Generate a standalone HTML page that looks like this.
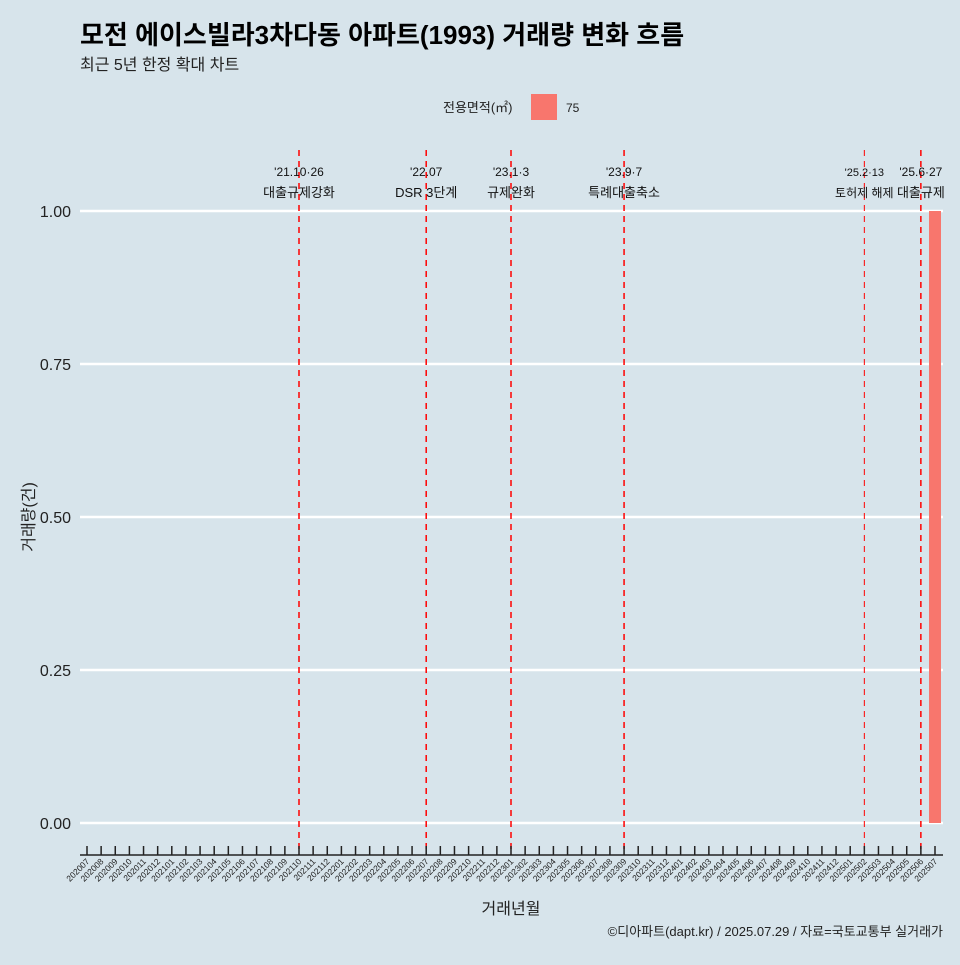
<!DOCTYPE html>
<html><head><meta charset="utf-8"><style>
body{margin:0;background:#d7e4eb;font-family:"Liberation Sans","Noto Sans CJK KR",sans-serif;}
svg text{font-family:"Liberation Sans","Noto Sans CJK KR",sans-serif;}
</style></head><body>
<svg width="960" height="960" xmlns="http://www.w3.org/2000/svg" id="chart">
<rect width="960" height="960" fill="#d7e4eb"/>
<text x="80" y="44" font-size="26" font-weight="bold" fill="#000">모전 에이스빌라3차다동 아파트(1993) 거래량 변화 흐름</text>
<text x="80" y="70" font-size="16" fill="#222">최근 5년 한정 확대 차트</text>
<g>
<text x="443" y="112" font-size="13" fill="#222">전용면적(㎡)</text>
<rect x="531" y="94" width="26" height="26" fill="#f8766d"/>
<text x="566" y="112" font-size="12" fill="#222">75</text>
</g>
<g id="grid"></g><g id="yticks"></g><g id="bars"></g><g id="events"></g><g id="xaxis"></g>
<text transform="translate(34,517) rotate(-90)" text-anchor="middle" font-size="16" fill="#222">거래량(건)</text>
<text x="511" y="914" text-anchor="middle" font-size="16" fill="#222">거래년월</text>
<text x="943" y="936" text-anchor="end" font-size="13" fill="#222">©디아파트(dapt.kr) / 2025.07.29 / 자료=국토교통부 실거래가</text>
</svg>
<script>
const months=[];
for(let y=2020;y<=2025;y++)for(let m=1;m<=12;m++){const k=y*100+m;if(k>=202007&&k<=202507)months.push(String(k));}
const barMonths=["202507"];
const barValues=[1];
const yTicks=[0,0.25,0.5,0.75,1.0];
const yTickLabels=["0.00","0.25","0.50","0.75","1.00"];
const eventMonths=["202110","202207","202301","202309","202502","202506"];
const eventLine1=["'21.10·26","'22.07","'23.1·3","'23.9·7","'25.2·13","'25.6·27"];
const eventLine2=["대출규제강화","DSR 3단계","규제완화","특례대출축소","토허제 해제","대출규제"];
const NS="http://www.w3.org/2000/svg";
const x0=87,dx=(935-87)/60;
const xs=c=>x0+months.indexOf(c)*dx;
const ys=v=>823-v*(823-211);
function mk(t,a,p){const e=document.createElementNS(NS,t);for(const k in a)e.setAttribute(k,a[k]);p.appendChild(e);return e;}
const grid=document.getElementById('grid'),yt=document.getElementById('yticks');
yTicks.forEach((v,i)=>{
 const l=mk('line',{x1:80,x2:943,y1:ys(v),y2:ys(v),stroke:'#fff','stroke-width':2.5},grid);
 
 
 const t=mk('text',{x:71,y:ys(v)+6,'text-anchor':'end','font-size':16,fill:'#222'},yt);
 t.textContent=yTickLabels[i];
 
 
});
const bars=document.getElementById('bars');
barMonths.forEach((m,i)=>{
 const r=mk('rect',{x:xs(m)-6,y:ys(barValues[i]),width:12,height:ys(0)-ys(barValues[i]),fill:'#f8766d'},bars);
 
 
});
const ev=document.getElementById('events');
eventMonths.forEach((m,i)=>{
 const x=xs(m);
 const small=m==="202502";
 const l=mk('line',{x1:x,x2:x,y1:150,y2:855,stroke:'#ff0000','stroke-width':small?1:1.5,'stroke-dasharray':'6,5'},ev);
 
 
 const t1=mk('text',{x:x,y:176,'text-anchor':'middle','font-size':small?11:12,fill:'#111'},ev);
 t1.textContent=eventLine1[i];
 
 
 const t2=mk('text',{x:x,y:197,'text-anchor':'middle','font-size':small?12:13,fill:'#111'},ev);
 t2.textContent=eventLine2[i];
 
 
});
const xa=document.getElementById('xaxis');
const ax=mk('line',{x1:80,x2:943,y1:855,y2:855,stroke:'#222','stroke-width':1.5},xa);


months.forEach(m=>{
 const x=xs(m);
 const tk=mk('line',{x1:x,x2:x,y1:846,y2:855,stroke:'#222','stroke-width':1.5},xa);
 
 
 const t=mk('text',{transform:`translate(${x+3},862) rotate(-45)`,'text-anchor':'end','font-size':8.5,fill:'#222'},xa);
 t.textContent=m;
 
 
});
</script>
</body></html>
